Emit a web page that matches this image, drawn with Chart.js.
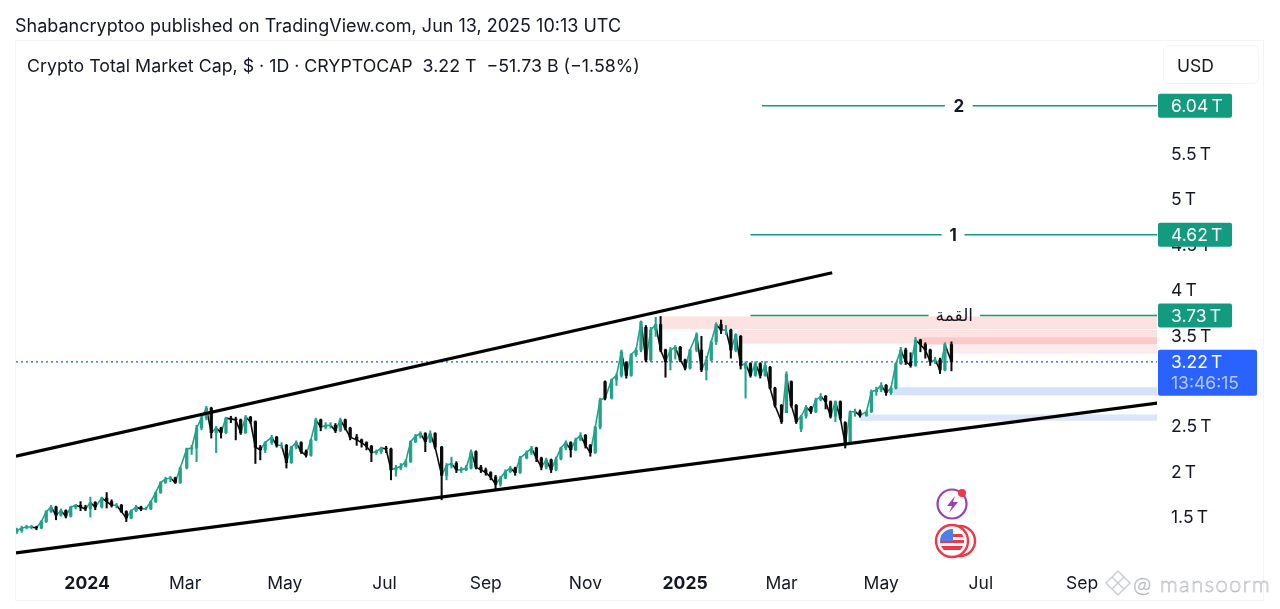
<!DOCTYPE html>
<html>
<head>
<meta charset="utf-8">
<title>Crypto Total Market Cap</title>
<script src="https://cdn.jsdelivr.net/npm/chart.js@4"></script>
<style>
    html, body { margin: 0; padding: 0; background: #fff; width: 1280px; height: 609px; overflow: hidden; font-family: Inter, sans-serif; color: #131722; }
    #wrap { position: relative; width: 1280px; height: 609px; }
    #frame { position: absolute; left: 15px; top: 40px; width: 1249px; height: 561px; border: 1px solid #f4f4f5; box-sizing: border-box; }
    canvas { position: absolute; left: 0; top: 0; }
    .head { position: absolute; white-space: pre; }
    #published { left: 15px; top: 15px; font-size: 18px; line-height: 22px; }
    #legend { left: 27px; top: 55px; font-size: 17.8px; line-height: 22px; }
    #usd { position: absolute; left: 1163px; top: 45px; width: 96px; height: 39px; border: 1px solid #f3f3f4; border-radius: 6px; box-sizing: border-box; font-size: 17.5px; line-height: 39px; padding-left: 13px; }
    #mark { position: absolute; left: 1133px; top: 570px; font: 300 22px Lato, sans-serif; color: transparent; -webkit-text-stroke: 0.6px #b5b8bd; letter-spacing: 1.4px; white-space: pre; }
    svg { position: absolute; }
</style>
</head>
<body>
<div id="wrap">
    <div id="frame"></div>
    <canvas id="chart" width="1280" height="609"></canvas>
    <div class="head" id="published">Shabancryptoo published on TradingView.com, Jun 13, 2025 10:13 UTC</div>
    <div class="head" id="legend">Crypto Total Market Cap, $ · 1D · CRYPTOCAP  3.22 T  −51.73 B (−1.58%)</div>
    <div id="usd">USD</div>
    <svg style="left:935px;top:487px" width="36" height="36" viewBox="0 0 36 36">
        <circle cx="17" cy="17" r="14.5" fill="none" stroke="#9c3fb0" stroke-width="2.2"/>
        <path d="M20 9 L12 19 L17 19 L14 26 L23 15 L18 15 Z" fill="#9c3fb0"/>
        <circle cx="27" cy="6" r="4" fill="#f23645"/>
    </svg>
    <svg style="left:934px;top:522px" width="44" height="38" viewBox="0 0 44 38">
        <defs><clipPath id="coin"><circle cx="18" cy="19" r="12"/></clipPath></defs>
        <circle cx="26" cy="19" r="15" fill="#fff" stroke="#f23645" stroke-width="2.4"/>
        <circle cx="18" cy="19" r="16" fill="#fff" stroke="#f23645" stroke-width="2.4"/>
        <g clip-path="url(#coin)">
            <rect x="6" y="7" width="24" height="24" fill="#fff"/>
            <rect x="6" y="12" width="24" height="3" fill="#f23645"/>
            <rect x="6" y="18" width="24" height="3" fill="#f23645"/>
            <rect x="6" y="24" width="24" height="4" fill="#f23645"/>
            <rect x="6" y="7" width="13" height="12" fill="#4f7fe6"/>
        </g>
    </svg>
    <svg style="left:1104px;top:569px" width="28" height="28" viewBox="0 0 28 28" fill="none" stroke="#c9ccd1" stroke-width="1.4">
        <path d="M14 2 L20 8 L14 14 L8 8 Z M14 14 L20 20 L14 26 L8 20 Z M8 8 L2 14 L8 20 M20 8 L26 14 L20 20"/>
    </svg>
    <div id="mark">@ mansoorm</div>
</div>
<script>
var candleDays = [-43,-40,-37,-34,-31,-28,-25,-22,-19,-16,-13,-10,-7,-4,-1,2,5,
    9,12,15,18,21,24,27,30,33,36,39,42,45,48,51,54,57,
    61,64,67,70,73,76,79,82,85,88,91,94,97,100,103,106,109,
    113,116,119,122,125,128,131,134,137,140,143,146,149,152,155,158,161,
    165,168,171,174,177,180,183,186,189,192,195,198,201,204,207,210,213,
    217,220,223,226,229,232,235,238,241,244,247,250,253,256,259,262,265,
    269,272,275,278,281,284,287,290,293,296,299,302,305,308,311,314,317,
    321,324,327,330,333,336,339,342,345,348,351,354,357,360,363,366,369,
    373,376,379,382,385,388,391,394,397,400,403,406,409,412,415,418,421,
    425,428,431,434,437,440,443,446,449,452,455,458,461,464,467,470,473,
    477,480,483,486,489,492,495,498,501,504,507,510,513,516,519,522,525,
    529];

var opens = [1.35,1.36,1.39,1.40,1.40,1.39,1.46,1.57,1.62,1.53,1.58,1.52,1.62,1.64,1.62,1.60,1.67,
    1.62,1.72,1.68,1.64,1.64,1.57,1.50,1.58,1.62,1.60,1.60,1.68,1.78,1.89,1.93,1.94,1.89,
    2.05,2.26,2.27,2.49,2.60,2.71,2.44,2.49,2.44,2.60,2.59,2.58,2.44,2.61,2.56,2.28,2.25,
    2.33,2.39,2.30,2.30,2.11,2.28,2.33,2.23,2.19,2.36,2.58,2.50,2.52,2.52,2.46,2.58,2.49,
    2.39,2.36,2.33,2.29,2.22,2.23,2.27,2.26,2.03,2.05,2.07,2.12,2.34,2.40,2.43,2.34,2.43,
    2.28,1.97,2.08,2.10,2.03,2.03,2.05,2.23,2.06,2.03,2.00,1.95,1.87,1.94,2.01,2.05,2.00,
    2.16,2.22,2.27,2.16,2.06,2.14,2.03,2.15,2.27,2.33,2.25,2.36,2.41,2.30,2.22,2.50,3.00,
    2.82,3.02,3.07,3.21,3.07,3.30,3.35,3.60,3.24,3.57,3.63,3.35,3.22,3.35,3.38,3.24,3.15,
    3.35,3.35,3.13,3.24,3.44,3.63,3.57,3.57,3.35,3.50,3.15,3.20,3.07,3.20,3.07,3.16,2.93,
    2.74,2.66,3.00,2.74,2.48,2.62,2.72,2.67,2.80,2.84,2.78,2.62,2.78,2.55,2.33,2.67,2.67,
    2.63,2.67,2.89,2.91,2.96,2.88,2.93,3.20,3.35,3.22,3.18,3.46,3.41,3.35,3.22,3.24,3.13,
    3.41];
var closes = [1.36,1.39,1.40,1.40,1.39,1.46,1.57,1.62,1.53,1.58,1.52,1.62,1.64,1.62,1.60,1.67,1.62,
    1.72,1.68,1.64,1.64,1.57,1.50,1.58,1.62,1.60,1.60,1.68,1.78,1.89,1.93,1.94,1.89,2.05,
    2.26,2.27,2.49,2.60,2.71,2.44,2.49,2.44,2.60,2.59,2.58,2.44,2.61,2.56,2.28,2.25,2.33,
    2.39,2.30,2.30,2.11,2.28,2.33,2.23,2.19,2.36,2.58,2.50,2.52,2.52,2.46,2.58,2.49,2.39,
    2.36,2.33,2.29,2.22,2.23,2.27,2.26,2.03,2.05,2.07,2.12,2.34,2.40,2.43,2.34,2.43,2.28,
    1.97,2.08,2.10,2.03,2.03,2.05,2.23,2.06,2.03,2.00,1.95,1.87,1.94,2.01,2.05,2.00,2.16,
    2.22,2.27,2.16,2.06,2.14,2.03,2.15,2.27,2.33,2.25,2.36,2.41,2.30,2.22,2.50,2.80,2.82,
    3.02,3.07,3.33,3.07,3.30,3.35,3.66,3.24,3.57,3.63,3.35,3.22,3.35,3.38,3.24,3.15,3.35,
    3.52,3.13,3.24,3.44,3.63,3.57,3.57,3.35,3.52,3.18,3.20,3.07,3.20,3.07,3.18,2.93,2.74,
    2.56,3.08,2.74,2.56,2.62,2.72,2.67,2.80,2.84,2.78,2.62,2.78,2.60,2.31,2.67,2.67,2.63,
    2.67,2.89,2.91,2.96,2.88,2.93,3.20,3.35,3.22,3.18,3.46,3.41,3.35,3.22,3.24,3.13,3.41,
    3.22];
var highs = [1.39,1.41,1.42,1.42,1.41,1.47,1.58,1.64,1.63,1.60,1.59,1.63,1.65,1.68,1.64,1.73,1.68,
    1.73,1.78,1.70,1.66,1.65,1.58,1.59,1.64,1.63,1.62,1.69,1.79,1.90,1.95,1.96,1.95,2.06,
    2.27,2.30,2.52,2.62,2.73,2.72,2.51,2.50,2.61,2.62,2.61,2.59,2.63,2.62,2.57,2.30,2.34,
    2.41,2.40,2.33,2.31,2.29,2.35,2.34,2.25,2.37,2.60,2.59,2.55,2.55,2.54,2.60,2.59,2.50,
    2.42,2.37,2.34,2.30,2.25,2.28,2.29,2.27,2.08,2.10,2.14,2.35,2.42,2.45,2.44,2.46,2.44,
    2.29,2.10,2.17,2.12,2.06,2.08,2.25,2.24,2.08,2.05,2.01,1.97,1.96,2.03,2.07,2.06,2.18,
    2.24,2.29,2.28,2.17,2.16,2.15,2.17,2.28,2.35,2.34,2.38,2.44,2.42,2.31,2.51,2.82,3.01,
    3.03,3.09,3.35,3.22,3.31,3.37,3.67,3.62,3.60,3.71,3.72,3.36,3.38,3.40,3.39,3.25,3.36,
    3.54,3.50,3.28,3.45,3.65,3.68,3.62,3.58,3.53,3.51,3.22,3.21,3.22,3.21,3.22,3.17,2.94,
    2.75,3.11,3.01,2.75,2.63,2.74,2.73,2.82,2.87,2.85,2.79,2.79,2.79,2.56,2.68,2.70,2.69,
    2.68,2.91,2.94,2.99,2.97,2.95,3.21,3.38,3.37,3.32,3.49,3.47,3.43,3.36,3.27,3.26,3.43,
    3.44];
var lows = [1.33,1.34,1.38,1.38,1.37,1.38,1.45,1.56,1.48,1.52,1.50,1.51,1.60,1.58,1.58,1.51,1.59,
    1.61,1.61,1.62,1.61,1.56,1.46,1.49,1.57,1.58,1.59,1.59,1.67,1.77,1.88,1.90,1.88,1.88,
    2.04,2.20,2.12,2.47,2.58,2.38,2.22,2.38,2.43,2.55,2.36,2.42,2.43,2.54,2.10,2.14,2.22,
    2.31,2.28,2.27,2.05,2.10,2.26,2.21,2.17,2.18,2.35,2.46,2.48,2.49,2.44,2.45,2.47,2.36,
    2.30,2.28,2.25,2.12,2.20,2.21,2.22,1.92,1.96,2.03,2.06,2.11,2.33,2.38,2.23,2.33,2.26,
    1.70,1.92,2.05,2.00,2.00,2.02,2.04,2.04,2.00,1.97,1.92,1.80,1.85,1.93,2.00,1.97,1.99,
    2.15,2.20,2.12,2.03,2.04,2.00,2.02,2.14,2.25,2.17,2.24,2.35,2.27,2.18,2.21,2.48,2.80,
    2.81,2.96,3.05,3.04,3.06,3.28,3.33,3.22,3.22,3.50,3.33,3.05,3.13,3.25,3.22,3.13,3.14,
    3.33,3.11,3.02,3.23,3.41,3.53,3.52,3.26,3.33,3.14,2.82,3.05,3.06,3.04,3.06,2.92,2.72,
    2.54,2.66,2.72,2.54,2.45,2.60,2.65,2.66,2.79,2.70,2.60,2.56,2.58,2.27,2.31,2.62,2.61,
    2.62,2.66,2.85,2.89,2.85,2.86,2.92,3.19,3.19,3.16,3.17,3.33,3.26,3.18,3.20,3.09,3.12,
    3.12];

// axis
var monthTickDays = [0, 60, 121, 182, 244, 305, 366, 425, 486, 547, 609];
var monthTickLabels = ['2024', 'Mar', 'May', 'Jul', 'Sep', 'Nov', '2025', 'Mar', 'May', 'Jul', 'Sep'];
var priceTicks = [1.5, 2, 2.5, 3, 3.5, 4, 4.5, 5, 5.5, 6];

// drawn trend lines: [day, value] pairs
var upperLineDays = [-43.5, 456], upperLineValues = [2.18, 4.20];
var lowerLineDays = [-43.5, 655], lowerLineValues = [1.115, 2.766];

// target levels
var levelValues = [6.04, 4.62, 3.73];
var levelNames = ['2', '1', 'القمة'];
var levelStartDays = [413, 406, 406];
var levelGapStartDays = [525, 523, 515];
var levelGapEndDays = [542, 537, 546.5];
var levelTagTexts = ['6.04\u2009T', '4.62\u2009T', '3.73\u2009T'];
var lastPrice = 3.22;

// supply / demand zones
var zoneStartDays = [352, 398, 511, 530, 491, 473];
var zoneTops = [3.72, 3.57, 3.49, 3.41, 2.94, 2.64];
var zoneBottoms = [3.58, 3.42, 3.41, 3.31, 2.85, 2.57];
var zoneColors = ['#fde2e2', '#fde2e2', '#fdc8c9', '#fdeaea', '#d5e2fa', '#dbe6fb'];

var axisEndDay = 654.8;

var UP = '#21a38b', DOWN = '#0b0b0b', GREEN = '#129b7e', DOTS = '#2457d6', TAG_BLUE = '#2962ff';

function candlePoints(a, b) {
    return candleDays.map(function (d, i) { return { x: d, y: [a[i], b[i]] }; });
}
var candleColors = closes.map(function (c, i) { return c >= opens[i] ? UP : DOWN; });

function linePoints(days, values) {
    return days.map(function (d, i) { return { x: d, y: values[i] }; });
}

var datasets = [
    { type: 'bar', data: candlePoints(lows, highs), backgroundColor: candleColors, barThickness: 1.4, grouped: false, order: 3 },
    { type: 'bar', data: candlePoints(opens, closes), backgroundColor: candleColors, barThickness: 2.6, grouped: false, order: 2 },
    // the source is daily, this close line fills the stretch between sampled candles
    {
        type: 'line',
        data: linePoints(candleDays, closes),
        borderWidth: 1.6,
        pointRadius: 0,
        order: 3,
        borderColor: UP,
        segment: { borderColor: function (c) { return c.p1.parsed.y >= c.p0.parsed.y ? UP : DOWN; } }
    },
    { type: 'line', data: linePoints(upperLineDays, upperLineValues), borderColor: '#000', borderWidth: 3.2, pointRadius: 0, order: 0 },
    { type: 'line', data: linePoints(lowerLineDays, lowerLineValues), borderColor: '#000', borderWidth: 3.2, pointRadius: 0, order: 0 },
    { type: 'line', data: linePoints([-43.5, axisEndDay], [lastPrice, lastPrice]), borderColor: DOTS, borderWidth: 1.2, borderDash: [2, 3], pointRadius: 0, order: 4 }
];
levelValues.forEach(function (v, i) {
    datasets.push({ type: 'line', data: linePoints([levelStartDays[i], levelGapStartDays[i]], [v, v]), borderColor: GREEN, borderWidth: 1.5, pointRadius: 0, order: 1 });
    datasets.push({ type: 'line', data: linePoints([levelGapEndDays[i], axisEndDay], [v, v]), borderColor: GREEN, borderWidth: 1.5, pointRadius: 0, order: 1 });
});

var zonesPlugin = {
    id: 'zones',
    beforeDatasetsDraw: function (chart) {
        var x = chart.scales.x, y = chart.scales.y, ctx = chart.ctx;
        zoneStartDays.forEach(function (d, i) {
            var left = x.getPixelForValue(d), top = y.getPixelForValue(zoneTops[i]);
            ctx.fillStyle = zoneColors[i];
            ctx.fillRect(left, top, x.right - left, y.getPixelForValue(zoneBottoms[i]) - top);
        });
    }
};

function roundRect(ctx, x, y, w, h, color) {
    ctx.fillStyle = color;
    ctx.beginPath();
    ctx.roundRect(x, y, w, h, 2);
    ctx.fill();
}

var tagsPlugin = {
    id: 'tags',
    afterDraw: function (chart) {
        var x = chart.scales.x, y = chart.scales.y, ctx = chart.ctx;
        ctx.save();
        ctx.textBaseline = 'middle';
        levelValues.forEach(function (v, i) {
            var py = y.getPixelForValue(v);
            roundRect(ctx, x.right + 1, py - 12, 74, 24, GREEN);
            ctx.fillStyle = '#fff';
            ctx.textAlign = 'left';
            ctx.font = '17.5px Inter, sans-serif';
            ctx.fillText(levelTagTexts[i], x.right + 14, py + 1);
            ctx.fillStyle = '#131722';
            ctx.textAlign = 'center';
            ctx.font = i < 2 ? 'bold 17px Inter, sans-serif' : '17px "DejaVu Sans", sans-serif';
            ctx.fillText(levelNames[i], x.getPixelForValue((levelGapStartDays[i] + levelGapEndDays[i]) / 2), py + 1);
        });
        var ly = y.getPixelForValue(lastPrice);
        roundRect(ctx, x.right + 1, ly - 12, 99, 46, TAG_BLUE);
        ctx.textAlign = 'left';
        ctx.fillStyle = '#fff';
        ctx.font = '17.5px Inter, sans-serif';
        ctx.fillText('3.22\u2009T', x.right + 14, ly + 1);
        ctx.fillStyle = '#b4c8ff';
        ctx.fillText('13:46:15', x.right + 14, ly + 22);
        ctx.restore();
    }
};

new Chart(document.getElementById('chart'), {
    data: { datasets: datasets },
    plugins: [zonesPlugin, tagsPlugin],
    options: {
        responsive: false,
        animation: false,
        layout: { padding: { left: 16, top: 42, right: 0, bottom: 0 } },
        plugins: { legend: { display: false }, tooltip: { enabled: false } },
        scales: {
            x: {
                type: 'linear',
                offset: false,
                min: -43.5,
                max: axisEndDay,
                grid: { display: false, drawTicks: false },
                border: { display: false },
                afterFit: function (s) { s.height = 39; },
                afterBuildTicks: function (s) { s.ticks = monthTickDays.map(function (d) { return { value: d }; }); },
                ticks: {
                    autoSkip: false,
                    maxRotation: 0,
                    padding: 3,
                    color: '#131722',
                    font: function (c) {
                        var bold = c.tick && monthTickLabels[monthTickDays.indexOf(c.tick.value)].charAt(0) === '2';
                        return { family: 'Inter, sans-serif', size: 17.5, weight: bold ? 'bold' : 'normal' };
                    },
                    callback: function (v) { return monthTickLabels[monthTickDays.indexOf(v)]; }
                }
            },
            y: {
                type: 'linear',
                position: 'right',
                min: 0.927,
                max: 6.742,
                grid: { display: false, drawTicks: false },
                border: { display: false },
                afterFit: function (s) { s.width = 123; },
                afterBuildTicks: function (s) { s.ticks = priceTicks.map(function (v) { return { value: v }; }); },
                ticks: {
                    padding: 14,
                    color: '#131722',
                    font: { family: 'Inter, sans-serif', size: 17.5 },
                    callback: function (v) { return v + '\u2009T'; }
                }
            }
        }
    }
});
</script>
</body>
</html>
